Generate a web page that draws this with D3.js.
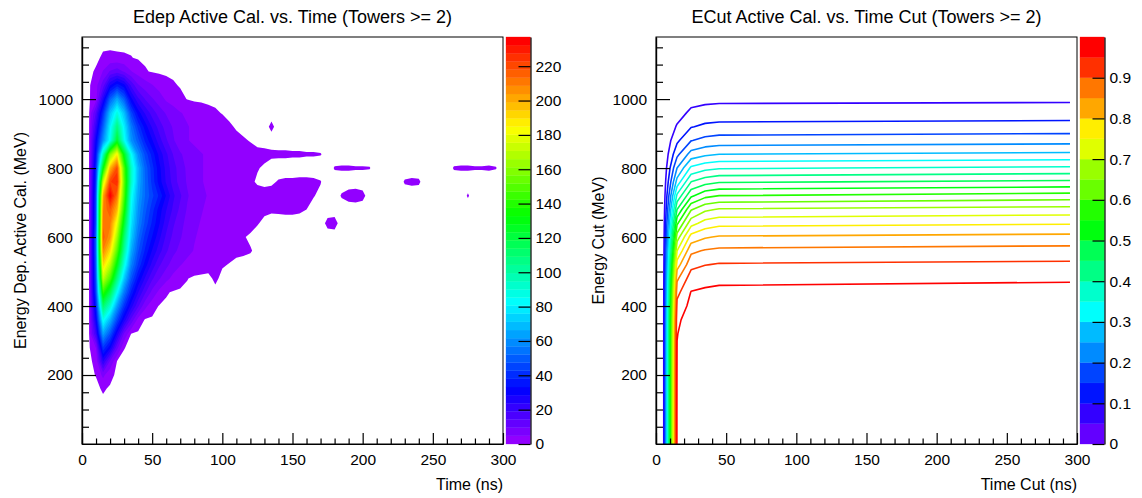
<!DOCTYPE html>
<html lang="en">
<head>
<meta charset="UTF-8">
<title>Edep / ECut Active Cal. vs. Time</title>
<script src="https://d3js.org/d3.v7.min.js"></script>
<style>
  body { margin: 0; background: #fff; }
  svg { display: block; font-family: "Liberation Sans", Arial, sans-serif; }
</style>
</head>
<body>
<svg id="chart" width="1142" height="498"></svg>
<script>
// ---------------- data ----------------
// left: Edep vs time histogram, one row per energy (0..1160 MeV, 40 MeV apart),
// values every 5 ns starting at t = 0 (missing entries are empty bins)
const timeStep = 5;
const energyStep = 40;
const edepEnergies = d3.range(0, 1200, energyStep);
const edepRows = [
  [],                                                    // 0
  [],                                                    // 40
  [],                                                    // 80
  [],                                                    // 120
  [0, 0, 0, 0.8, 0.2],                                   // 160
  [0, 0, 0.6, 6, 1.2],                                   // 200
  [0, 0, 1.2, 24, 9, 0.4],                               // 240
  [0, 0, 5, 42, 30, 11, 0.6],                            // 280
  [0, 0.3, 20, 64, 48, 27, 9, 0.5],                      // 320
  [0, 0.3, 30, 86, 68, 45, 27, 13, 3, 0.2],              // 360
  [0, 0.3, 38, 112, 92, 63, 41, 26, 15, 6, 2, 0.3],      // 400
  [0, 0.3, 45, 142, 118, 84, 56, 37, 24, 15, 8, 3.5, 0.8, 0.2], // 440
  [0, 0.3, 48, 172, 148, 108, 72, 48, 33, 23, 15, 10, 6, 3.5, 1.8, 0.6, 0, 0, 0, 0.9], // 480
  [0, 0.3, 50, 192, 170, 130, 88, 58, 42, 31, 22, 15, 11, 7, 5, 3.5, 2.5, 1.8, 1.3, 1, 0.7, 0.4], // 520
  [0, 0.3, 52, 208, 190, 150, 102, 66, 48, 37, 28, 21, 15, 11, 8, 6, 4.5, 3.5, 2.5, 2, 1.5, 1.2, 1, 0.8, 0.6, 0.2], // 560
  [0, 0.3, 52, 216, 205, 165, 112, 73, 53, 41, 33, 25, 18, 13, 10, 7, 5, 4, 3, 2.5, 2, 1.6, 1.2, 0.6, 0.3], // 600
  [0, 0.3, 48, 212, 210, 180, 125, 78, 58, 46, 37, 29, 21, 15, 11, 8, 5.5, 4.5, 3.5, 3, 2.5, 2, 1.6, 1.3, 1, 0.6, 0.2], // 640
  [0, 0.3, 47, 208, 218, 198, 138, 82, 61, 49, 40, 31, 24, 18, 13, 9, 6.5, 5, 4, 3.5, 3, 2.5, 2, 1.6, 1.3, 1, 0.8, 0.7, 0.75, 0.8, 0.8, 0.7, 0.5, 0.2], // 680
  [0, 0.3, 46, 200, 237, 212, 148, 86, 64, 52, 44, 37, 28, 20, 15, 10, 7.5, 5.5, 4.5, 3.5, 3, 2.5, 2, 1.8, 1.5, 1.2, 1, 1, 0.9, 0.8, 0.7, 0.65, 0.6, 0.55, 0.3], // 720
  [0, 0.3, 43, 172, 222, 228, 152, 94, 67, 52, 41, 31, 23, 17, 12, 9, 6.5, 5, 4, 3, 2.5, 2, 1.7, 1.4, 0.8, 0.3, 0.2, 0.3, 0.6, 0.7, 0.7, 0.75, 0.75, 0.7, 0.55], // 760
  [0, 0.3, 40, 130, 198, 220, 148, 94, 68, 51, 40, 30, 22, 16, 12, 8.5, 6.5, 5, 4, 3.5, 3, 2.5, 2, 1.5, 1, 0.6, 0.3], // 800
  [0, 0.3, 35, 95, 158, 186, 128, 84, 60, 46, 36, 27, 20, 14, 10, 8, 6, 5, 4, 3.5, 3, 2.5, 2, 1.5, 1.2, 1, 0.9, 0.75, 0.7, 0.7, 0.65, 0.65, 0.6, 0.6, 0.55, 0.2], // 840
  [0, 0.3, 30, 60, 85, 125, 86, 61, 49, 37, 29, 21, 15, 10, 7, 5, 4, 3, 3, 2, 2, 1.5, 1, 0.7, 0.4], // 880
  [0, 0.3, 22, 50, 80, 108, 80, 56, 41, 31, 23, 17, 12, 9, 7, 5, 4, 3, 2.5, 2, 1.5, 0.8, 0.3, 0, 0, 0, 0, 0.8], // 920
  [0, 0.2, 15, 40, 70, 88, 70, 45, 31, 23, 17, 12, 9, 7, 5, 4, 3, 2, 1.2, 0.8, 0.4], // 960
  [0, 0.1, 3, 25, 50, 65, 50, 30, 20, 14, 10, 7, 4, 2.5, 1.2, 0.4], // 1000
  [0, 0, 3, 12, 28, 36, 30, 18, 10, 7, 5, 3, 1.5, 0.8, 0.3], // 1040
  [0, 0, 0.8, 5, 10, 12, 9, 5, 2.5, 0.8, 0.2],           // 1080
  [0, 0, 0, 0.9, 1.1, 0.9, 0.8, 0.6, 0.2],               // 1120
  []                                                     // 1160
];
// isolated far-out bins: [time ns, energy MeV, content]
const edepIsolated = [
  [175, 640, 0.8], [180, 640, 0.9],
  [185, 720, 0.6], [190, 720, 0.9], [195, 720, 1], [200, 720, 0.8], [275, 720, 0.6],
  [230, 760, 0.6], [235, 760, 0.7], [240, 760, 0.65],
  [180, 800, 0.58], [185, 800, 0.62], [190, 800, 0.62], [195, 800, 0.58], [200, 800, 0.58], [205, 800, 0.55],
  [265, 800, 0.58], [270, 800, 0.62], [275, 800, 0.62], [280, 800, 0.58], [285, 800, 0.58], [290, 800, 0.62], [295, 800, 0.55]
];
const edepMax = 237;

// right: efficiency vs (time cut, energy cut); columns are time cuts
const cutTimes = [5, 15, 25, 35, 45, 295];
const cutEnergies = d3.range(0, 1200, energyStep);
const cutRows = [
  [0, 0.96, 0.998, 0.999, 1, 1],            // 0
  [0, 0.96, 0.998, 0.999, 1, 1],            // 40
  [0, 0.96, 0.997, 0.998, 0.999, 0.999],    // 80
  [0, 0.959, 0.996, 0.997, 0.998, 0.998],   // 120
  [0, 0.958, 0.995, 0.996, 0.997, 0.997],   // 160
  [0, 0.957, 0.993, 0.994, 0.995, 0.995],   // 200
  [0, 0.955, 0.99, 0.992, 0.993, 0.993],    // 240
  [0, 0.952, 0.987, 0.989, 0.99, 0.99],     // 280
  [0, 0.948, 0.982, 0.984, 0.985, 0.985],   // 320
  [0, 0.94, 0.975, 0.977, 0.978, 0.978],    // 360
  [0, 0.915, 0.965, 0.968, 0.969, 0.97],    // 400
  [0, 0.885, 0.952, 0.956, 0.957, 0.958],   // 440
  [0, 0.84, 0.925, 0.938, 0.943, 0.947],    // 480
  [0, 0.775, 0.885, 0.898, 0.904, 0.91],    // 520
  [0, 0.70, 0.838, 0.855, 0.862, 0.87],     // 560
  [0, 0.625, 0.77, 0.795, 0.805, 0.815],    // 600
  [0, 0.54, 0.68, 0.72, 0.735, 0.745],      // 640
  [0, 0.45, 0.595, 0.64, 0.655, 0.67],      // 680
  [0, 0.36, 0.49, 0.535, 0.55, 0.57],       // 720
  [0, 0.27, 0.40, 0.43, 0.445, 0.46],       // 760
  [0, 0.2, 0.31, 0.335, 0.345, 0.36],       // 800
  [0, 0.137, 0.22, 0.24, 0.25, 0.26],       // 840
  [0, 0.09, 0.148, 0.165, 0.172, 0.18],     // 880
  [0, 0.055, 0.097, 0.11, 0.115, 0.12],     // 920
  [0, 0.03, 0.06, 0.068, 0.071, 0.075],     // 960
  [0, 0.02, 0.033, 0.038, 0.04, 0.042],     // 1000
  [0, 0.012, 0.022, 0.025, 0.026, 0.028],   // 1040
  [0, 0.006, 0.014, 0.016, 0.017, 0.018],   // 1080
  [0, 0.002, 0.007, 0.008, 0.009, 0.01],    // 1120
  [0, 0, 0.002, 0.002, 0.003, 0.003]        // 1160
];

// tick labels
const xTicks = [0, 50, 100, 150, 200, 250, 300];
const yTicks = [200, 400, 600, 800, 1000];
const edepBarTicks = [0, 20, 40, 60, 80, 100, 120, 140, 160, 180, 200, 220];
const cutBarTicks = [0, 0.1, 0.2, 0.3, 0.4, 0.5, 0.6, 0.7, 0.8, 0.9];

// ---------------- layout ----------------
const svg = d3.select("#chart");
const plotTop = 37, plotBottom = 444, barW = 24.5;
const panels = [
  { x0: 82, x1: 503, bar: 506,
    title: "Edep Active Cal. vs. Time (Towers >= 2)",
    xTitle: "Time (ns)", yTitle: "Energy Dep. Active Cal. (MeV)", yTitleX: 25.5 },
  { x0: 656, x1: 1077, bar: 1080,
    title: "ECut Active Cal. vs. Time Cut (Towers >= 2)",
    xTitle: "Time Cut (ns)", yTitle: "Energy Cut (MeV)", yTitleX: 603.5 }
];
const font = "Liberation Sans, Arial, sans-serif";

// ROOT "pretty" palette: 50 colours, violet -> red
const palette = d3.range(50).map(i => d3.hsl(280 - (i + 1) * 5.6, 1, 0.5).formatHex());

const yScale = d3.scaleLinear().domain([0, 1180]).range([plotBottom, plotTop]);

function drawAxes(p, xs) {
  const g = svg.append("g");
  const styleAxis = sel => sel.attr("font-size", 15.5).attr("font-family", font)
    .call(s => s.selectAll("path, line").attr("stroke", "#000").attr("stroke-width", 1.2));

  g.append("rect")
    .attr("x", p.x0).attr("y", plotTop)
    .attr("width", p.x1 - p.x0).attr("height", plotBottom - plotTop)
    .attr("fill", "none").attr("stroke", "#000").attr("stroke-width", 1);

  const xMinor = d3.range(10, 300, 10).filter(v => v % 50 !== 0);
  g.append("g").attr("transform", `translate(0,${plotBottom})`)
    .call(d3.axisBottom(xs).tickValues(xMinor).tickSize(-5.5).tickSizeOuter(0).tickFormat(""))
    .call(styleAxis);
  g.append("g").attr("transform", `translate(0,${plotBottom})`)
    .call(d3.axisBottom(xs).tickValues(xTicks).tickSize(-11).tickSizeOuter(0).tickPadding(10)
      .tickFormat(d3.format("d")))
    .call(styleAxis);

  const yMinor = d3.range(50, 1180, 50).filter(v => v % 200 !== 0);
  g.append("g").attr("transform", `translate(${p.x0},0)`)
    .call(d3.axisLeft(yScale).tickValues(yMinor).tickSize(-7).tickSizeOuter(0).tickFormat(""))
    .call(styleAxis);
  g.append("g").attr("transform", `translate(${p.x0},0)`)
    .call(d3.axisLeft(yScale).tickValues(yTicks).tickSize(-14).tickSizeOuter(0).tickPadding(9)
      .tickFormat(d3.format("d")))
    .call(styleAxis);

  g.append("text")
    .attr("x", (p.x0 + p.x1) / 2).attr("y", 23)
    .attr("text-anchor", "middle").attr("font-size", 18).attr("font-family", font)
    .text(p.title);
  g.append("text")
    .attr("x", p.x1).attr("y", 490)
    .attr("text-anchor", "end").attr("font-size", 16).attr("font-family", font)
    .text(p.xTitle);
  g.append("text")
    .attr("transform", `translate(${p.yTitleX},${(plotTop + plotBottom) / 2}) rotate(-90)`)
    .attr("text-anchor", "middle").attr("font-size", 16).attr("font-family", font)
    .text(p.yTitle);
}

function drawColorBar(p, zs, bands, ticks) {
  const g = svg.append("g");
  g.selectAll("rect").data(bands).join("rect")
    .attr("x", p.bar).attr("width", barW)
    .attr("y", d => zs(d.hi)).attr("height", d => zs(d.lo) - zs(d.hi))
    .attr("fill", d => d.color).attr("stroke", d => d.color).attr("stroke-width", 0.3);
  g.append("g").attr("transform", `translate(${p.bar + barW},0)`)
    .call(d3.axisRight(zs).tickValues(ticks).tickSize(-12).tickSizeOuter(0).tickPadding(5)
      .tickFormat(d => String(d)))
    .attr("font-size", 15.5).attr("font-family", font)
    .call(s => s.selectAll("path, line").attr("stroke", "#000").attr("stroke-width", 1.2));
}

// ---------------- left: filled contours ----------------
(function () {
  const p = panels[0];
  const xs = d3.scaleLinear().domain([0, 300]).range([p.x0, p.x1]);
  const nT = 300 / timeStep + 1, nE = edepEnergies.length;
  const grid = new Float64Array(nT * nE);
  edepRows.forEach((row, j) => row.forEach((v, i) => { grid[j * nT + i] = v; }));
  edepIsolated.forEach(([t, e, v]) => { grid[(e / energyStep) * nT + t / timeStep] = v; });

  // 50 equal levels up to the maximum, lowest one just above an empty bin
  const levels = [0.5].concat(d3.range(1, 50).map(k => k * edepMax / 50));
  const contours = d3.contours().size([nT, nE]).thresholds(levels)(grid);

  const toScreen = d3.geoPath(d3.geoTransform({
    point(gx, gy) {
      this.stream.point(xs((gx - 0.5) * timeStep), yScale(edepEnergies[0] + (gy - 0.5) * energyStep));
    }
  }));

  svg.append("clipPath").attr("id", "clipL").append("rect")
    .attr("x", p.x0).attr("y", plotTop).attr("width", p.x1 - p.x0).attr("height", plotBottom - plotTop);
  svg.append("g").attr("clip-path", "url(#clipL)")
    .selectAll("path").data(contours).join("path")
    .attr("d", toScreen)
    .attr("fill", (d, i) => palette[i]);

  drawAxes(p, xs);
  const zs = d3.scaleLinear().domain([0, edepMax]).range([plotBottom, plotTop]);
  const bands = d3.range(50).map(k => ({ lo: k * edepMax / 50, hi: (k + 1) * edepMax / 50, color: palette[k] }));
  drawColorBar(p, zs, bands, edepBarTicks);
})();

// ---------------- right: contour lines ----------------
(function () {
  const p = panels[1];
  const xs = d3.scaleLinear().domain([0, 300]).range([p.x0, p.x1]);
  const nT = cutTimes.length, nE = cutEnergies.length;
  const grid = cutRows.flat();
  const nLev = 20;
  const levels = d3.range(1, nLev).map(k => k / nLev);
  const colorOf = k => palette[Math.floor((k + 0.99) * 50 / nLev)];
  const contours = d3.contours().size([nT, nE]).thresholds(levels)(grid);

  const tIdx = d3.scaleLinear().domain(d3.range(nT)).range(cutTimes).clamp(true);
  const px = ([gx, gy]) => [xs(tIdx(gx - 0.5)), yScale(cutEnergies[0] + (gy - 0.5) * energyStep)];
  const onBorder = ([gx, gy]) => gx <= 0 || gx >= nT || gy <= 0 || gy >= nE;

  // contour rings without the pieces that run along the grid border
  function linePath(mp) {
    let d = "";
    mp.coordinates.forEach(poly => poly.forEach(ring => {
      let pen = false;
      for (let i = 0; i < ring.length - 1; i++) {
        const a = ring[i], b = ring[i + 1];
        if (onBorder(a) || onBorder(b)) { pen = false; continue; }
        const pa = px(a), pb = px(b);
        if (!pen) { d += `M${pa[0].toFixed(2)},${pa[1].toFixed(2)}`; pen = true; }
        d += `L${pb[0].toFixed(2)},${pb[1].toFixed(2)}`;
      }
    }));
    return d;
  }

  svg.append("clipPath").attr("id", "clipR").append("rect")
    .attr("x", p.x0).attr("y", plotTop).attr("width", p.x1 - p.x0).attr("height", plotBottom - plotTop);
  svg.append("g").attr("clip-path", "url(#clipR)")
    .selectAll("path").data(contours).join("path")
    .attr("d", linePath)
    .attr("fill", "none")
    .attr("stroke", (d, i) => colorOf(i + 1))
    .attr("stroke-width", 1.6)
    .attr("stroke-linejoin", "round");

  drawAxes(p, xs);
  const zs = d3.scaleLinear().domain([0, 1]).range([plotBottom, plotTop]);
  const bands = d3.range(nLev).map(k => ({ lo: k / nLev, hi: (k + 1) / nLev, color: colorOf(k) }));
  drawColorBar(p, zs, bands, cutBarTicks);
})();
</script>
</body>
</html>
